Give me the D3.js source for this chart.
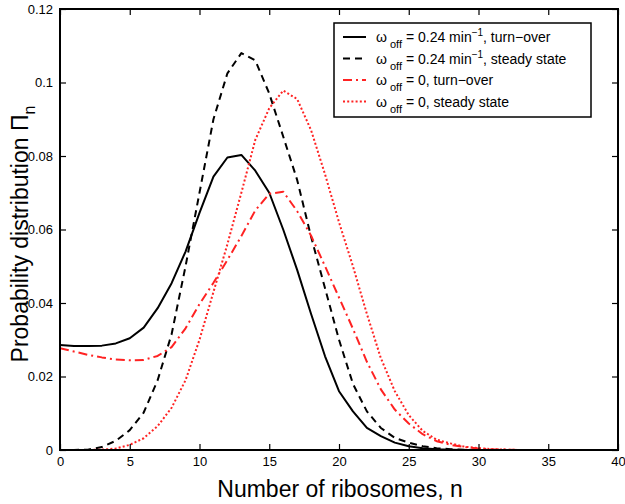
<!DOCTYPE html>
<html>
<head>
<meta charset="utf-8">
<script src="https://cdn.jsdelivr.net/npm/d3@7"></script>
<style>
  body { margin: 0; background: #fff; }
  text { font-family: "Liberation Sans", Arial, sans-serif; fill: #000; }
</style>
</head>
<body>
<svg class="graph" width="625" height="504"></svg>
<script>
// number of ribosomes n = 0..40
var nValues = d3.range(0, 41);

// omega_off = 0.24 min^-1, turn-over
var turnOver024 = [0.0286, 0.0283, 0.0283, 0.0284, 0.029, 0.0304, 0.0333, 0.0386, 0.0454, 0.054,
  0.0645, 0.0744, 0.0796, 0.0803, 0.076, 0.070, 0.060, 0.049, 0.037, 0.0255,
  0.016, 0.0105, 0.006, 0.0038, 0.002, 0.001, 0.0005, 0.0002, 0.0001, 0, 0, 0, 0, 0, 0, 0, 0, 0, 0, 0, 0];
// omega_off = 0.24 min^-1, steady state
var steady024 = [0, 0, 0.0001, 0.0008, 0.0025, 0.0054, 0.0102, 0.019, 0.0315, 0.050,
  0.070, 0.090, 0.1025, 0.108, 0.106, 0.097, 0.0853, 0.0735, 0.058, 0.044,
  0.030, 0.018, 0.0105, 0.006, 0.0033, 0.002, 0.001, 0.0005, 0.0002, 0.0001, 0, 0, 0, 0, 0, 0, 0, 0, 0, 0, 0];
// omega_off = 0, turn-over
var turnOver0 = [0.0277, 0.0268, 0.0259, 0.0252, 0.0246, 0.0244, 0.0245, 0.0256, 0.028, 0.0331,
  0.0397, 0.0455, 0.0517, 0.0582, 0.0652, 0.0697, 0.0703, 0.065, 0.0583, 0.050,
  0.0415, 0.033, 0.024, 0.0165, 0.011, 0.0072, 0.0043, 0.0024, 0.0014, 0.0008, 0.0004, 0.0002, 0.0001, 0, 0, 0, 0, 0, 0, 0, 0];
// omega_off = 0, steady state
var steady0 = [0, 0, 0, 0.0001, 0.0004, 0.0014, 0.0032, 0.0065, 0.0115, 0.019,
  0.030, 0.043, 0.056, 0.070, 0.0844, 0.093, 0.0978, 0.0955, 0.087, 0.075,
  0.062, 0.050, 0.037, 0.025, 0.016, 0.0095, 0.0052, 0.0028, 0.0018, 0.0009, 0.0005, 0.0002, 0.0001, 0, 0, 0, 0, 0, 0, 0, 0];

var xTicks = [0, 5, 10, 15, 20, 25, 30, 35, 40];
var yTicks = [0, 0.02, 0.04, 0.06, 0.08, 0.1, 0.12];
var yTickLabels = ["0", "0.02", "0.04", "0.06", "0.08", "0.1", "0.12"];

var series = [
  { vals: turnOver024, color: "#000", width: 2, dash: null, lab: ["0.24 min", "\u22121", ", turn\u2212over"] },
  { vals: steady024, color: "#000", width: 2, dash: "7,5", lab: ["0.24 min", "\u22121", ", steady state"] },
  { vals: turnOver0, color: "#f22", width: 2, dash: "9,4,2,4", lab: ["0, turn\u2212over"] },
  { vals: steady0, color: "#f22", width: 2, dash: "2,2.2", lab: ["0, steady state"] }
];

var svg = d3.select('svg.graph'),
  margin = {top: 9, right: 7, bottom: 54, left: 60},
  width = +svg.attr("width") - margin.left - margin.right,
  height = +svg.attr("height") - margin.top - margin.bottom,
  g = svg.append("g").attr("transform", "translate(" + margin.left + "," + margin.top + ")");

var x = d3.scaleLinear().domain([0, 40]).range([0, width]);
var y = d3.scaleLinear().domain([0, 0.12]).range([height, 0]);

var line = d3.line()
  .x(function(d, i) { return x(nValues[i]); })
  .y(function(d) { return y(d); });

g.append("defs").append("clipPath").attr("id", "clip")
  .append("rect").attr("width", width).attr("height", height);

var plot = g.append("g").attr("clip-path", "url(#clip)");
series.forEach(function(s) {
  plot.append("path")
    .attr("d", line(s.vals))
    .attr("fill", "none")
    .attr("stroke", s.color)
    .attr("stroke-width", s.width)
    .attr("stroke-dasharray", s.dash)
    .attr("stroke-linejoin", "round");
});

// axes, ticks inward on all four sides
var tk = 6;
g.append("g").attr("transform", "translate(0," + height + ")")
  .call(d3.axisBottom(x).tickValues(xTicks).tickSize(-tk).tickPadding(7))
  .call(function(a) { a.select(".domain").remove(); a.selectAll("text").attr("font-size", 13); });
g.append("g")
  .call(d3.axisTop(x).tickValues(xTicks).tickSize(-tk).tickFormat(""))
  .call(function(a) { a.select(".domain").remove(); });
g.append("g")
  .call(d3.axisLeft(y).tickValues(yTicks).tickSize(-tk).tickPadding(7)
    .tickFormat(function(d, i) { return yTickLabels[i]; }))
  .call(function(a) { a.select(".domain").remove(); a.selectAll("text").attr("font-size", 13); });
g.append("g").attr("transform", "translate(" + width + ",0)")
  .call(d3.axisRight(y).tickValues(yTicks).tickSize(-tk).tickFormat(""))
  .call(function(a) { a.select(".domain").remove(); });
g.selectAll(".tick line").attr("stroke", "#000").attr("stroke-width", 1.2);

g.append("rect")
  .attr("width", width).attr("height", height)
  .attr("fill", "none").attr("stroke", "#000").attr("stroke-width", 2);

// axis titles
svg.append("text")
  .attr("x", 340).attr("y", 497)
  .attr("text-anchor", "middle").attr("font-size", 23)
  .text("Number of ribosomes, n");

var yl = svg.append("text")
  .attr("transform", "translate(28,234) rotate(-90)")
  .attr("text-anchor", "middle").attr("font-size", 23);
yl.append("tspan").text("Probability distribution \u03a0");
yl.append("tspan").attr("dy", 7).attr("font-size", 16).text("n");

// legend
var leg = svg.append("g").attr("transform", "translate(334,23)");
leg.append("rect").attr("width", 257).attr("height", 94)
  .attr("fill", "#fff").attr("stroke", "#000").attr("stroke-width", 1.5);
series.forEach(function(s, i) {
  var ry = 14 + i * 21.5;
  leg.append("line")
    .attr("x1", 9).attr("x2", 32).attr("y1", ry).attr("y2", ry)
    .attr("stroke", s.color).attr("stroke-width", s.width)
    .attr("stroke-dasharray", s.dash);
  var t = leg.append("text").attr("x", 42).attr("y", ry + 5).attr("font-size", 14);
  t.append("tspan").text("\u03c9");
  t.append("tspan").attr("dy", 6).attr("font-size", 11).text(" off");
  t.append("tspan").attr("dy", -6).text(" = " + s.lab[0]);
  if (s.lab.length > 1) {
    t.append("tspan").attr("dy", -6).attr("font-size", 10).text(s.lab[1]);
    t.append("tspan").attr("dy", 6).text(s.lab[2]);
  }
});
</script>
</body>
</html>
